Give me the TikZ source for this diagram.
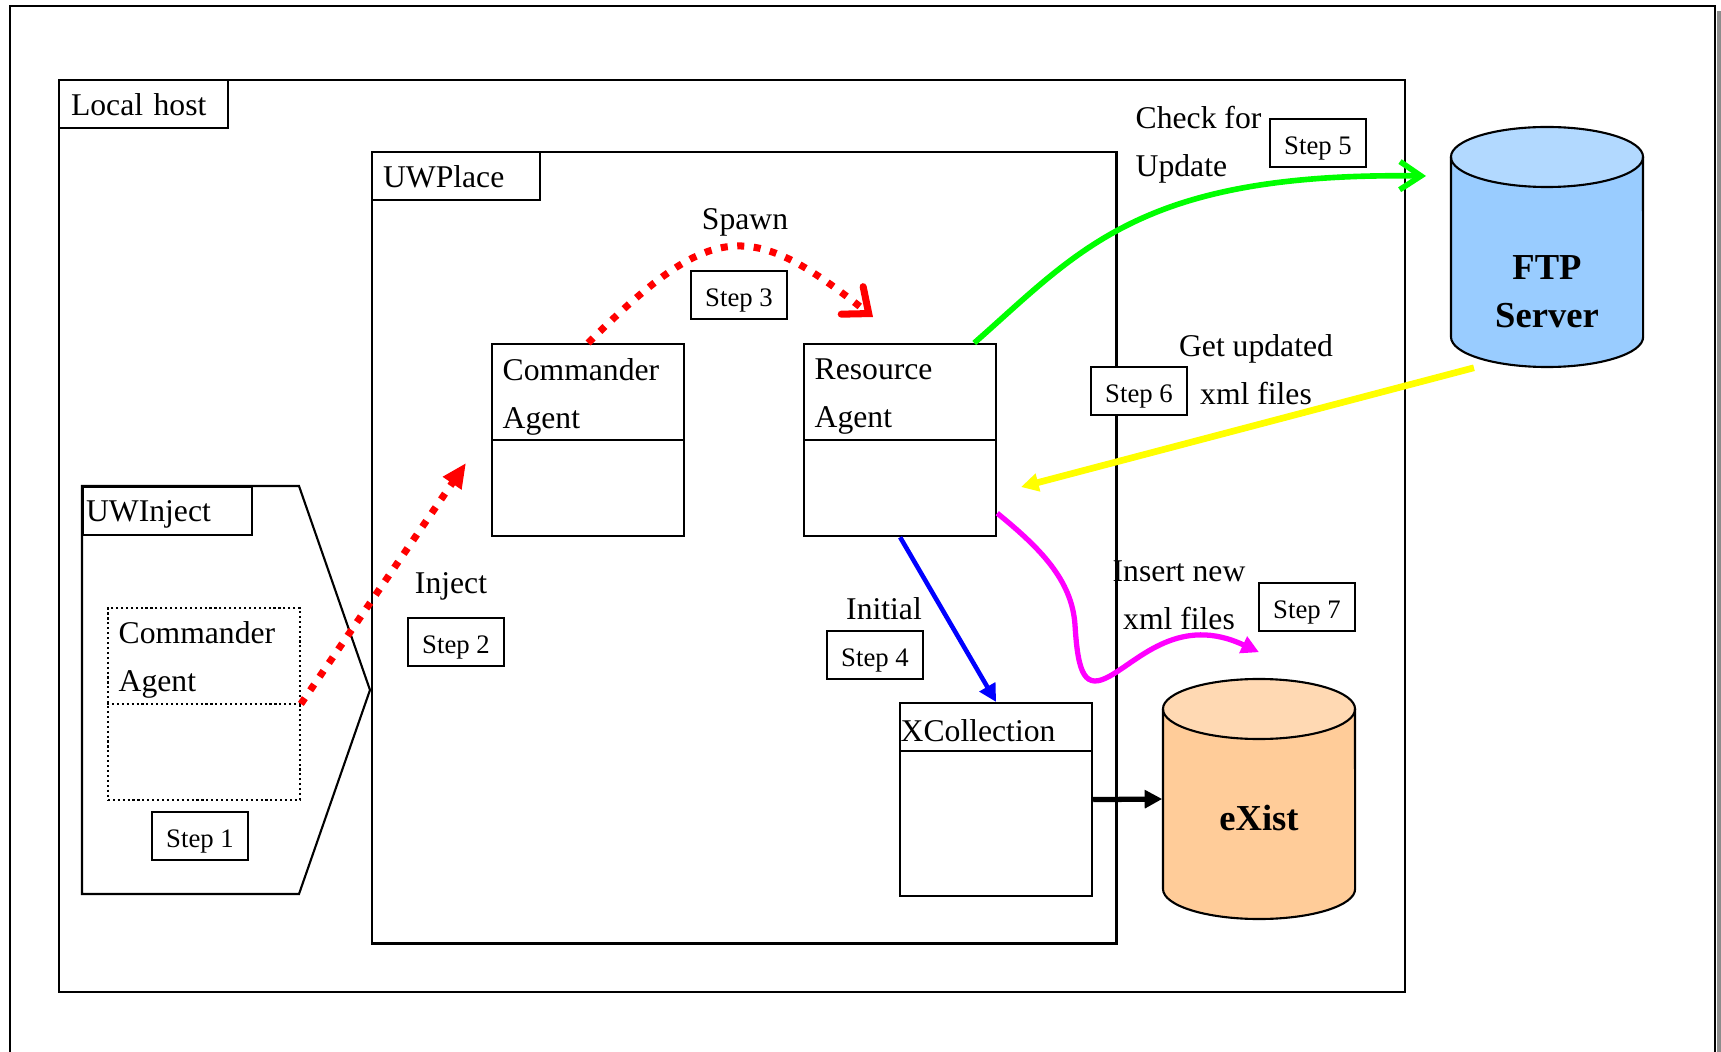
\documentclass[tikz,border=0pt]{standalone}
\usepackage{fontspec}
\setmainfont{Liberation Serif}
\usetikzlibrary{arrows.meta, calc}

\definecolor{ftpbody}{RGB}{153,204,255}
\definecolor{ftplid}{RGB}{178,217,255}
\definecolor{existbody}{RGB}{255,204,153}
\definecolor{existlid}{RGB}{255,217,179}
\definecolor{checkgreen}{RGB}{0,255,0}
\definecolor{getyellow}{RGB}{255,255,0}
\definecolor{insertpink}{RGB}{255,0,255}

\tikzset{
  frame/.style={draw=black, line width=0.6pt},
  hostbox/.style={frame, rectangle, anchor=north west, inner sep=0pt},
  tagbox/.style={frame, rectangle, anchor=north west, align=left, minimum height=0.48cm, inner ysep=0pt, text depth=0pt},
  agentbox/.style={frame, rectangle, anchor=north west, minimum width=1.92cm, minimum height=1.92cm, inner sep=0pt},
  agenttext/.style={anchor=west, align=left, inner sep=0pt},
  stepbox/.style={frame, fill=white, minimum width=0.96cm, minimum height=0.48cm, inner sep=0pt, text height=6.5pt, text depth=0pt, font=\fontsize{7.6}{9}\selectfont},
  note/.style={inner sep=0pt},
  dbshape/.style={rectangle, minimum width=1.92cm, minimum height=2.4cm, inner sep=0pt},
  dbtext/.style={align=center, inner sep=0pt, font=\fontsize{10.4}{13.66}\selectfont\bfseries},
  dotarrow/.style={red, line width=2pt, dash pattern=on 2pt off 2.7pt},
  solidarrow/.style={line width=1.5pt, -{Triangle[length=5pt, width=5pt]}}
}

\begin{document}
\begin{tikzpicture}[x=0.01cm, y=-0.01cm, font=\fontsize{9}{13.66}\selectfont]
\useasboundingbox (0,0) rectangle (1721,1052);

% page frame, shadow on the right
\fill[black!45] (1717,11) rectangle (1721,1052);
\draw[line width=0.8pt] (10,1052) -- (10,6) -- (1715,6) -- (1715,1052);

% host and place
\node[hostbox, minimum width=13.45cm, minimum height=9.11cm] (host) at (58,79) {};
\node[tagbox, inner xsep=0.12cm, text width=1.45cm] (hosttag) at (host.north west) {Local host};
\node[hostbox, minimum width=7.44cm, minimum height=7.91cm] (place) at (371,151) {};
\node[tagbox, inner xsep=0.11cm, text width=1.46cm] (placetag) at (place.north west) {UWPlace};

% injector
\draw[frame] (82,486) -- (299,486) -- (370,690) -- (299,894) -- (82,894) -- cycle;
\node[tagbox, inner xsep=0.03cm, text width=1.63cm] (injecttag) at (82,486) {UWInject};
\node[agentbox, line width=0.5pt, dash pattern=on 0.6pt off 0.8pt] (cmdcopy) at (107,607) {};
\draw[line width=0.5pt, dash pattern=on 0.6pt off 0.8pt] (cmdcopy.west) -- (cmdcopy.east);
\node[agenttext] (cmdcopytext) at (118,660) {Commander\\Agent};

% agents
\node[agentbox] (cmd) at (491,343) {};
\draw[frame] (cmd.west) -- (cmd.east);
\node[agenttext] (cmdtext) at (502,397) {Commander\\Agent};
\node[agentbox] (res) at (803,343) {};
\draw[frame] (res.west) -- (res.east);
\node[agenttext] (restext) at (814,397) {Resource\\Agent};
\node[agentbox, minimum height=1.93cm] (xcol) at (899,702) {};
\draw[frame] ($(xcol.north west)+(0,49)$) -- ($(xcol.north east)+(0,49)$);
\node[agenttext] (xcoltext) at (900,731) {XCollection};

% FTP server
\node[dbshape] (ftp) at (1547,247) {};
\fill[ftpbody] (1451,157) rectangle (1643,337);
\fill[ftpbody] (1547,337) ellipse [x radius=0.96cm, y radius=0.3cm];
\fill[ftplid] (1547,157) ellipse [x radius=0.96cm, y radius=0.3cm];
\draw[frame] (1547,157) ellipse [x radius=0.96cm, y radius=0.3cm];
\draw[frame] (1451,157) -- (1451,337) arc [start angle=180, end angle=360, x radius=0.96cm, y radius=0.3cm] -- (1643,157);
\node[dbtext] (ftptext) at (1547,292) {FTP\\Server};

% eXist
\node[dbshape] (exist) at (1259,799) {};
\fill[existbody] (1163,709) rectangle (1355,889);
\fill[existbody] (1259,889) ellipse [x radius=0.96cm, y radius=0.3cm];
\fill[existlid] (1259,709) ellipse [x radius=0.96cm, y radius=0.3cm];
\draw[frame] (1259,709) ellipse [x radius=0.96cm, y radius=0.3cm];
\draw[frame] (1163,709) -- (1163,889) arc [start angle=180, end angle=360, x radius=0.96cm, y radius=0.3cm] -- (1355,709);
\node[dbtext] (existtext) at (1259,818) {eXist};

% labels
\node[note] (spawnlbl) at (745,222) {Spawn};
\node[note] (injectlbl) at (451,586) {Inject};
\node[note] (initlbl) at (884,609) {Initial};
\node[note, align=left, anchor=west] (checklbl) at (1135,145) {Check for\\Update};
\node[note, align=center] (getlbl) at (1256,370) {Get updated\\xml files};
\node[note, align=center] (insertlbl) at (1179,595) {Insert new\\xml files};

% steps
\node[stepbox] (step1) at (200,836) {Step 1};
\node[stepbox] (step2) at (456,642) {Step 2};
\node[stepbox] (step3) at (739,295) {Step 3};
\node[stepbox] (step4) at (875,655) {Step 4};
\node[stepbox] (step5) at (1318,143) {Step 5};
\node[stepbox] (step6) at (1139,391) {Step 6};
\node[stepbox] (step7) at (1307,607) {Step 7};

% loose arrow ends
\coordinate (injtip) at (466,463);
\coordinate (spawntip) at (873,317);
\coordinate (chktip) at (1426,176);
\coordinate (gettip) at (1021,487);

\draw[dotarrow, -{Triangle[length=7pt, width=6pt]}] (cmdcopy.east) -- (injtip);
\draw[dotarrow, -{Straight Barb[length=6pt, width=10pt, line cap=round]}] (cmd.north) .. controls (712,220) and (750,219) .. (spawntip);
\draw[checkgreen, line width=1.6pt, -{Straight Barb[length=6pt, width=8pt]}] ([xshift=-0.23cm]res.north east) .. controls (1080,250) and (1140,172) .. (chktip);
\draw[getyellow, solidarrow, line width=1.9pt] ([xshift=-0.73cm]ftp.south) -- (gettip);
\draw[blue, solidarrow, line width=1.3pt] (res.south) -- (xcol.north);
\draw[black, solidarrow] (xcol.east) -- (exist.west);
\draw[insertpink, solidarrow] ([yshift=0.24cm]res.south east) .. controls (1040,548) and (1072,580) .. (1075,625)
  .. controls (1078,675) and (1085,690) .. (1110,676)
  .. controls (1140,659) and (1180,615) .. ([yshift=0.26cm]exist.north);

\end{tikzpicture}
\end{document}
